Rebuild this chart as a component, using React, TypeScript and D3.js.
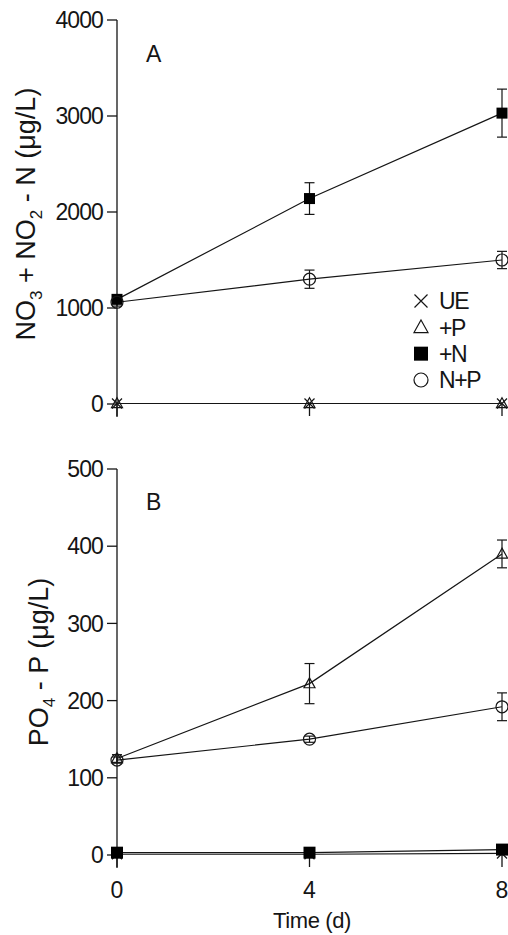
import React from 'react';
import * as d3 from 'd3';

const days = [0, 4, 8];
const xTickLabels = ['0', '4', '8'];

// Panel A: NO3 + NO2 - N (µg/L)
const aTicks = [0, 1000, 2000, 3000, 4000];
const aUE = [5, 5, 5];
const aP = [5, 5, 5];
const aPErr = [0, 0, 0];
const aN = [1090, 2140, 3030];
const aNErr = [30, 165, 250];
const aNP = [1060, 1300, 1500];
const aNPErr = [40, 95, 90];

// Panel B: PO4 - P (µg/L)
const bTicks = [0, 100, 200, 300, 400, 500];
const bUE = [1, 1, 2];
const bP = [125, 222, 390];
const bPErr = [5, 26, 18];
const bN = [3, 3, 7];
const bNErr = [1, 1, 1];
const bNP = [123, 150, 192];
const bNPErr = [4, 4, 18];

const legendNames = ['UE', '+P', '+N', 'N+P'];
const legendTypes = ['x', 'tri', 'sq', 'circ'];

const FONT = '"Liberation Sans", Arial, sans-serif';
const INK = '#151515';

type MT = 'x' | 'tri' | 'sq' | 'circ';

function Marker({ t, cx, cy, s }: { t: MT; cx: number; cy: number; s: number }) {
  const h = s / 2;
  if (t === 'x')
    return (
      <path d={`M${cx - h},${cy - h}L${cx + h},${cy + h}M${cx - h},${cy + h}L${cx + h},${cy - h}`} stroke={INK} strokeWidth={1.2} fill="none" />
    );
  if (t === 'tri')
    return (
      <path d={`M${cx},${cy - h * 1.05}L${cx + h},${cy + h * 0.75}L${cx - h},${cy + h * 0.75}Z`} stroke={INK} strokeWidth={1.2} fill="none" />
    );
  if (t === 'sq') return <rect x={cx - h} y={cy - h} width={s} height={s} fill="#000" />;
  return <circle cx={cx} cy={cy} r={h} stroke={INK} strokeWidth={1.2} fill="none" />;
}

type Series = { t: MT; v: number[]; e?: number[]; size: number };

function Panel({
  y0, y1, domainMax, ticks, series, letter, letterY, showX, label,
}: {
  y0: number; y1: number; domainMax: number; ticks: number[]; series: Series[]; letter: string; letterY: number; showX: boolean; label: React.ReactNode;
}) {
  const x = d3.scaleLinear().domain([0, 8]).range([117, 502]);
  const y = d3.scaleLinear().domain([0, domainMax]).range([y0, y1]);
  const line = d3.line<number>().x((_, i) => x(days[i])).y((d) => y(d));
  const axisX = x(0);
  return (
    <g fontFamily={FONT} fill={INK}>
      <line x1={axisX} x2={axisX} y1={y(domainMax)} y2={y0 + 13} stroke={INK} strokeWidth={1.3} />
      {ticks.map((t) => (
        <g key={t}>
          <line x1={axisX - 10} x2={axisX} y1={y(t)} y2={y(t)} stroke={INK} strokeWidth={1.3} />
          <text x={axisX - 14} y={y(t)} dy="0.36em" textAnchor="end" fontSize={23} letterSpacing={-0.9}>
            {t}
          </text>
        </g>
      ))}
      {days.map((d, i) => (
        <g key={d}>
          <line x1={x(d)} x2={x(d)} y1={y0} y2={y0 + 12} stroke={INK} strokeWidth={1.3} />
          {showX && (
            <text x={x(d)} y={y0 + 43} textAnchor="middle" fontSize={23}>
              {xTickLabels[i]}
            </text>
          )}
        </g>
      ))}
      {series.map((s, k) => (
        <path key={k} d={line(s.v) || ''} stroke={INK} strokeWidth={1.2} fill="none" />
      ))}
      {series.map((s, k) =>
        s.e
          ? s.v.map((v, i) =>
              s.e![i] > 0 ? (
                <g key={`${k}-${i}`} stroke={INK} strokeWidth={1.2}>
                  <line x1={x(days[i])} x2={x(days[i])} y1={y(v - s.e![i])} y2={y(v + s.e![i])} />
                  <line x1={x(days[i]) - 5} x2={x(days[i]) + 5} y1={y(v - s.e![i])} y2={y(v - s.e![i])} />
                  <line x1={x(days[i]) - 5} x2={x(days[i]) + 5} y1={y(v + s.e![i])} y2={y(v + s.e![i])} />
                </g>
              ) : null
            )
          : null
      )}
      {series.map((s, k) =>
        s.v.map((v, i) => <Marker key={`m${k}-${i}`} t={s.t} cx={x(days[i])} cy={y(v)} s={s.size} />)
      )}
      <text x={146} y={letterY} fontSize={23}>
        {letter}
      </text>
      {label}
    </g>
  );
}

export default function App() {
  const aSeries: Series[] = [
    { t: 'x', v: aUE, size: 10 },
    { t: 'tri', v: aP, e: aPErr, size: 11 },
    { t: 'sq', v: aN, e: aNErr, size: 11 },
    { t: 'circ', v: aNP, e: aNPErr, size: 12 },
  ];
  const bSeries: Series[] = [
    { t: 'x', v: bUE, size: 10 },
    { t: 'tri', v: bP, e: bPErr, size: 11 },
    { t: 'sq', v: bN, e: bNErr, size: 12 },
    { t: 'circ', v: bNP, e: bNPErr, size: 12 },
  ];
  const legendY = d3.scalePoint<number>().domain([0, 1, 2, 3]).range([301, 380]);
  return (
    <svg width={508} height={935} style={{ position: 'absolute', left: 0, top: 0, background: '#fff' }}>
      <rect width={508} height={935} fill="#fff" />
      <Panel
        y0={404}
        y1={20}
        domainMax={4000}
        ticks={aTicks}
        series={aSeries}
        letter="A"
        letterY={62}
        showX={false}
        label={
          <text transform="translate(35,214) rotate(-90)" textAnchor="middle" fontSize={27}>
            NO<tspan dy={7} fontSize={17}>3</tspan>
            <tspan dy={-7}> + NO</tspan>
            <tspan dy={7} fontSize={17}>2</tspan>
            <tspan dy={-7}> - N (μg/L)</tspan>
          </text>
        }
      />
      <Panel
        y0={855}
        y1={469}
        domainMax={500}
        ticks={bTicks}
        series={bSeries}
        letter="B"
        letterY={510}
        showX={true}
        label={
          <text transform="translate(48,662) rotate(-90)" textAnchor="middle" fontSize={27} fontFamily={FONT} fill={INK}>
            PO<tspan dy={7} fontSize={17}>4</tspan>
            <tspan dy={-7}> - P (μg/L)</tspan>
          </text>
        }
      />
      <text x={312} y={928} textAnchor="middle" fontSize={22} fontFamily={FONT} fill={INK} letterSpacing={-0.4}>
        Time (d)
      </text>
      <g fontFamily={FONT} fill={INK}>
        {legendNames.map((n, i) => (
          <g key={n}>
            <Marker t={legendTypes[i] as MT} cx={421} cy={legendY(i)!} s={i === 0 ? 13 : 14} />
            <text x={439} y={legendY(i)!} dy="0.36em" fontSize={23} letterSpacing={-1.4}>
              {n}
            </text>
          </g>
        ))}
      </g>
    </svg>
  );
}
